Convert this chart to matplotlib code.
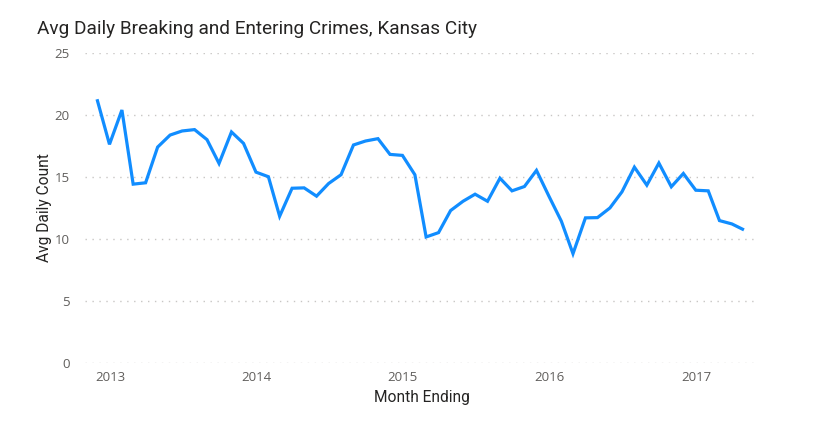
import matplotlib
matplotlib.use("Agg")
import matplotlib.pyplot as plt
import pandas as pd

# Data: month-ending dates and average daily counts
months = pd.date_range("2012-11-30", periods=54, freq="ME")
avg_daily = [21.27, 17.63, 20.40, 14.42, 14.53, 17.41, 18.38, 18.71, 18.82, 18.01,
             16.09, 18.63, 17.71, 15.39, 15.02, 11.83, 14.09, 14.12, 13.45, 14.47,
             15.18, 17.58, 17.90, 18.09, 16.82, 16.74, 15.18, 10.16, 10.51, 12.29,
             13.04, 13.61, 13.04, 14.90, 13.88, 14.23, 15.53, 13.45, 11.43, 8.81,
             11.70, 11.72, 12.50, 13.80, 15.79, 14.34, 16.12, 14.21, 15.28, 13.93,
             13.88, 11.48, 11.21, 10.73]
year_ticks = ["2013", "2014", "2015", "2016", "2017"]
y_ticks = [0, 5, 10, 15, 20, 25]

fig = plt.figure(figsize=(8.29, 4.32), dpi=100)
ax = fig.add_axes([85/829, 1-362.9/432, (758-85)/829, (362.9-53)/432])

ax.plot(months, avg_daily, color="#118DFF", lw=2.3, solid_joinstyle="miter", solid_capstyle="butt")

ax.set_ylim(0, 25)
ax.set_yticks(y_ticks)
ax.set_xlim(pd.Timestamp("2012-10-31"), pd.Timestamp("2017-06-04"))
ax.set_xticks([pd.Timestamp(f"{y}-01-01") for y in year_ticks])
ax.set_xticklabels(year_ticks)

for s in ax.spines.values():
    s.set_visible(False)
ax.tick_params(length=0, labelsize=9.5, labelcolor="#605E5C")
for lbl in ax.get_xticklabels() + ax.get_yticklabels():
    lbl.set_family(["Open Sans", "DejaVu Sans"])
ax.tick_params(axis="x", pad=6)
ax.tick_params(axis="y", pad=11)

ax.yaxis.grid(True, color="#C8C6C4", lw=1.0, linestyle=(0, (1, 4)))
ax.set_axisbelow(True)

ax.set_ylabel("Avg Daily Count", fontsize=11.2, color="#252423", family=["Roboto", "DejaVu Sans"], labelpad=2)
ax.set_xlabel("Month Ending", fontsize=11.2, color="#252423", family=["Roboto", "DejaVu Sans"], labelpad=4)

fig.text(37/829, 1-29/432, "Avg Daily Breaking and Entering Crimes, Kansas City",
         fontsize=13.7, color="#252423", family=["Roboto", "DejaVu Sans"], va="center", ha="left")

fig.savefig("out.png", dpi=100, facecolor="white")
